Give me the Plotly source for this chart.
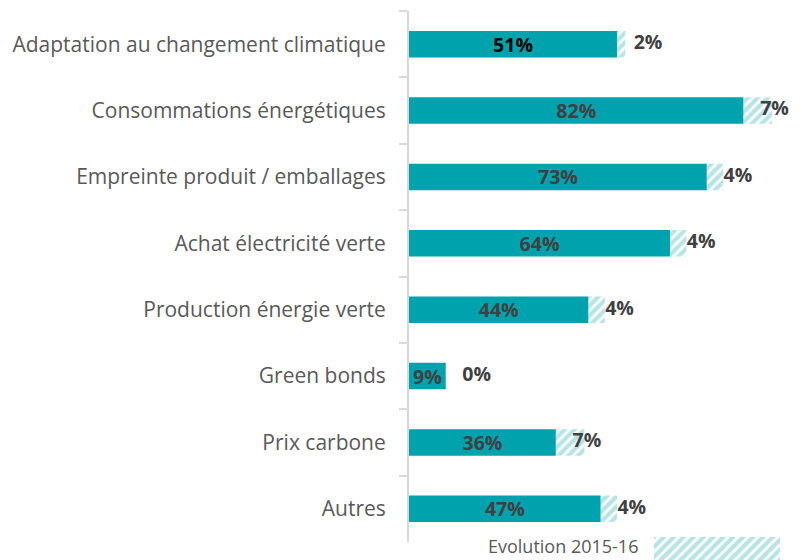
import plotly.graph_objects as go

categories = ["Adaptation au changement climatique", "Consommations énergétiques",
              "Empreinte produit / emballages", "Achat électricité verte",
              "Production énergie verte", "Green bonds", "Prix carbone", "Autres"]
base_values = [51, 82, 73, 64, 44, 9, 36, 47]
evolution = [2, 7, 4, 4, 4, 0, 7, 4]
legend_label = "Evolution 2015-16"

TEAL = "#00A3AD"
HATCH = "#6FC9D0"
GREY = "#595959"
DARK = "#404040"
FONT = "Open Sans"

W, H = 802, 560
ML, MT, MB, MR = 409, 11, 0, 0
plot_h = H - MT - MB
plot_w = W - ML - MR
y_bottom = (H - 542) / plot_h

main_colors = ["#000000"] + [DARK] * (len(categories) - 1)
hatch = dict(shape="/", fgcolor=HATCH, bgcolor="white", size=7, solidity=0.6)

fig = go.Figure()
fig.add_trace(go.Bar(
    y=categories, x=base_values, orientation="h",
    marker=dict(color=TEAL, line=dict(width=0)),
    width=0.4,
    text=[f"{v}%" for v in base_values],
    textposition="inside", insidetextanchor="middle", textangle=0,
    constraintext="none",
    textfont=dict(family=FONT, size=19.5, color=main_colors, weight="bold"),
    showlegend=False, hoverinfo="skip",
))
fig.add_trace(go.Bar(
    y=categories, x=evolution, base=base_values, orientation="h",
    marker=dict(color="white", line=dict(width=0), pattern=hatch),
    width=0.4, showlegend=False, hoverinfo="skip",
))
fig.add_trace(go.Scatter(
    y=categories, x=[b + 7.6 for b in base_values], mode="text",
    text=[f"{v}%" for v in evolution],
    textposition="middle center",
    textfont=dict(family=FONT, size=19.5, color=DARK, weight="bold"),
    showlegend=False, hoverinfo="skip", cliponaxis=False,
))
# legend key
fig.add_trace(go.Bar(
    x=[1], y=[0], orientation="h", xaxis="x2", yaxis="y2", width=1,
    marker=dict(color="white", line=dict(width=0), pattern=hatch),
    showlegend=False, hoverinfo="skip",
))

fig.update_layout(
    width=W, height=H, margin=dict(l=ML, r=MR, t=MT, b=MB),
    paper_bgcolor="white", plot_bgcolor="white",
    barmode="overlay",
    xaxis=dict(range=[0, plot_w / 4.08], visible=False, fixedrange=True),
    yaxis=dict(domain=[y_bottom, 1], categoryorder="array", categoryarray=categories,
               autorange="reversed",
               showline=True, linecolor="#D9D9D9", linewidth=2,
               ticks="outside", tickson="boundaries", ticklen=8, tickcolor="#D9D9D9", tickwidth=2,
               tickfont=dict(family=FONT, size=21, color=GREY), ticklabelstandoff=17,
               showgrid=False, zeroline=False),
    xaxis2=dict(domain=[(654 - ML) / plot_w, (780 - ML) / plot_w], range=[0, 1],
                visible=False, anchor="y2"),
    yaxis2=dict(domain=[0, (H - 537) / plot_h], range=[-0.5, 0.5], visible=False, anchor="x2"),
    annotations=[dict(text=legend_label, xref="paper", yref="paper",
                      x=(640 - ML) / plot_w, y=0, xanchor="right", yanchor="bottom",
                      showarrow=False, font=dict(family=FONT, size=18, color=GREY))],
)

fig.write_html("out.html")
